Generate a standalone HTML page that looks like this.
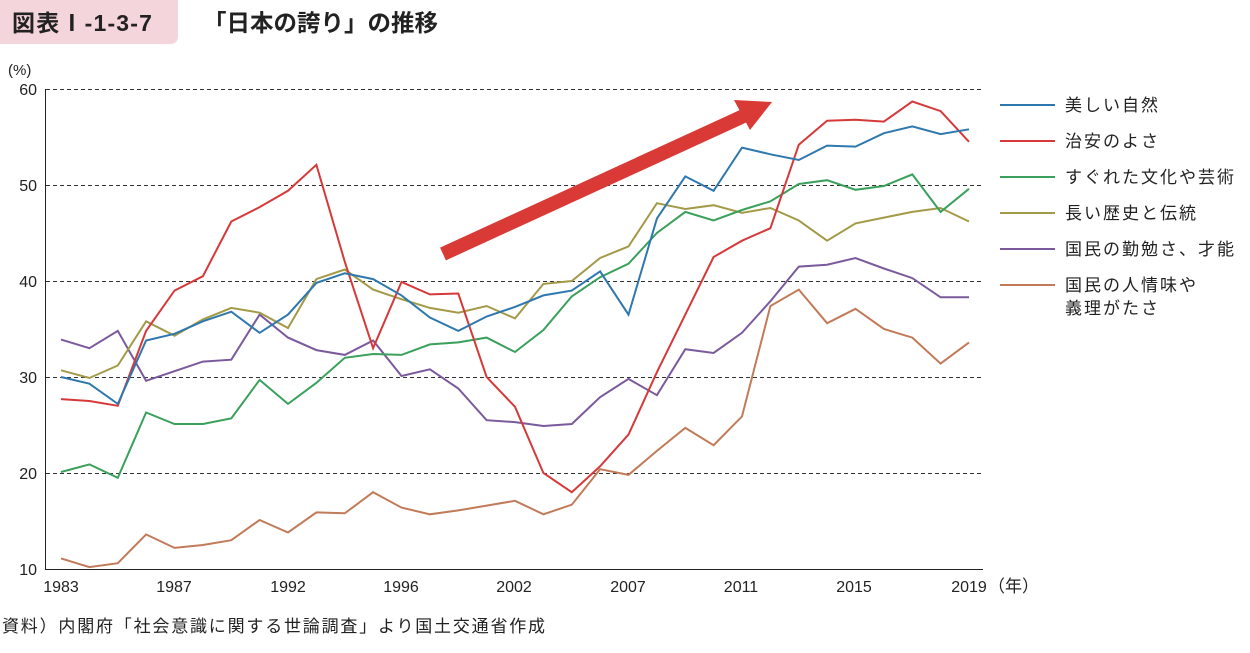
<!DOCTYPE html>
<html><head><meta charset="utf-8"><style>
body{margin:0;background:#fff;width:1250px;height:648px;overflow:hidden;font-family:"Liberation Sans","Noto Sans CJK JP",sans-serif;}
</style></head><body>
<svg id="s" width="1250" height="648" xmlns="http://www.w3.org/2000/svg" font-family="Liberation Sans, Noto Sans CJK JP, sans-serif">
<path d="M0 0H178V36Q178 44 170 44H0Z" fill="#f5d5dc"/>
<text x="12" y="31" font-size="23" font-weight="bold" fill="#222" letter-spacing="1.2">図表Ⅰ-1-3-7</text>
<text x="203" y="31" font-size="23.5" font-weight="bold" fill="#222">「日本の誇り」の推移</text>
<text x="8" y="75" font-size="15" fill="#222">(%)</text>
<g stroke="#333" stroke-width="1" stroke-dasharray="4,3">
<line x1="46" y1="89.5" x2="983" y2="89.5"/><line x1="46" y1="185.5" x2="983" y2="185.5"/><line x1="46" y1="281.5" x2="983" y2="281.5"/><line x1="46" y1="377.5" x2="983" y2="377.5"/><line x1="46" y1="473.5" x2="983" y2="473.5"/>
</g>
<line x1="45.5" y1="89" x2="45.5" y2="569" stroke="#222"/>
<line x1="45" y1="569.5" x2="983" y2="569.5" stroke="#222"/>
<g font-size="16" fill="#222" text-anchor="end">
<text x="37" y="95">60</text><text x="37" y="191">50</text><text x="37" y="287">40</text><text x="37" y="383">30</text><text x="37" y="479">20</text><text x="37" y="575">10</text>
</g>
<g font-size="16" fill="#222" text-anchor="middle">
<text x="61" y="592">1983</text><text x="174" y="592">1987</text><text x="288" y="592">1992</text><text x="401" y="592">1996</text><text x="514" y="592">2002</text><text x="628" y="592">2007</text><text x="741" y="592">2011</text><text x="854" y="592">2015</text><text x="969" y="592">2019</text>
</g>
<text x="988" y="592" font-size="17" fill="#222">（年）</text>
<text x="2" y="632" font-size="17" fill="#222" letter-spacing="1.8">資料）内閣府「社会意識に関する世論調査」より国土交通省作成</text>
<g id="lines" fill="none" stroke-width="2"></g>
<line x1="443" y1="254" x2="748" y2="114" stroke="#d93a35" stroke-width="14"/>
<polygon points="772,102 734,100 750,130" fill="#d93a35"/>
<g font-size="17" fill="#222" letter-spacing="2">
<line x1="1000" y1="105" x2="1055" y2="105" stroke="#2f78ad" stroke-width="2"/><text x="1065" y="111">美しい自然</text>
<line x1="1000" y1="141" x2="1055" y2="141" stroke="#d6393a" stroke-width="2"/><text x="1065" y="147">治安のよさ</text>
<line x1="1000" y1="177" x2="1055" y2="177" stroke="#3aa05c" stroke-width="2"/><text x="1065" y="183">すぐれた文化や芸術</text>
<line x1="1000" y1="213" x2="1055" y2="213" stroke="#a39a48" stroke-width="2"/><text x="1065" y="219">長い歴史と伝統</text>
<line x1="1000" y1="249" x2="1055" y2="249" stroke="#7a5a9c" stroke-width="2"/><text x="1065" y="255">国民の勤勉さ、才能</text>
<line x1="1000" y1="285" x2="1055" y2="285" stroke="#c17b58" stroke-width="2"/><text x="1065" y="291">国民の人情味や</text><text x="1065" y="314">義理がたさ</text>
</g>
</svg>
<script>
var D=[
["#2f78ad",[30,29.3,27.2,33.8,34.5,35.8,36.8,34.6,36.5,39.8,40.8,40.2,38.5,36.2,34.8,36.3,37.3,38.5,39,41,36.5,46.5,50.9,49.4,53.9,53.2,52.6,54.1,54,55.4,56.1,55.3,55.8]],
["#d6393a",[27.7,27.5,27,34.8,39,40.5,46.2,47.7,49.4,52.1,42,33,39.9,38.6,38.7,30,26.9,20,18,20.7,24,30.5,36.5,42.5,44.2,45.5,54.2,56.7,56.8,56.6,58.7,57.7,54.5]],
["#3aa05c",[20.1,20.9,19.5,26.3,25.1,25.1,25.7,29.7,27.2,29.4,32,32.4,32.3,33.4,33.6,34.1,32.6,34.9,38.4,40.4,41.8,45,47.2,46.3,47.4,48.3,50.1,50.5,49.5,49.9,51.1,47.2,49.6]],
["#a39a48",[30.7,29.9,31.2,35.8,34.3,36,37.2,36.7,35.1,40.2,41.2,39.1,38.1,37.2,36.7,37.4,36.1,39.7,40,42.4,43.6,48.1,47.5,47.9,47.1,47.6,46.3,44.2,46,46.6,47.2,47.6,46.2]],
["#7a5a9c",[33.9,33,34.8,29.6,30.6,31.6,31.8,36.5,34.1,32.8,32.3,33.8,30.1,30.8,28.8,25.5,25.3,24.9,25.1,27.9,29.8,28.1,32.9,32.5,34.6,37.9,41.5,41.7,42.4,41.3,40.3,38.3,38.3]],
["#c17b58",[11.1,10.2,10.6,13.6,12.2,12.5,13,15.1,13.8,15.9,15.8,18,16.4,15.7,16.1,16.6,17.1,15.7,16.7,20.4,19.8,22.3,24.7,22.9,25.9,37.4,39.1,35.6,37.1,35,34.1,31.4,33.6]]];
var g=document.getElementById("lines"),h="";
D.reverse().forEach(function(s){var p=s[1].map(function(v,i){return (61+i*28.375).toFixed(1)+","+(569-(v-10)*9.6).toFixed(1)}).join(" ");
h+='<polyline points="'+p+'" stroke="'+s[0]+'"/>';});
g.innerHTML=h;
</script>
</body></html>
